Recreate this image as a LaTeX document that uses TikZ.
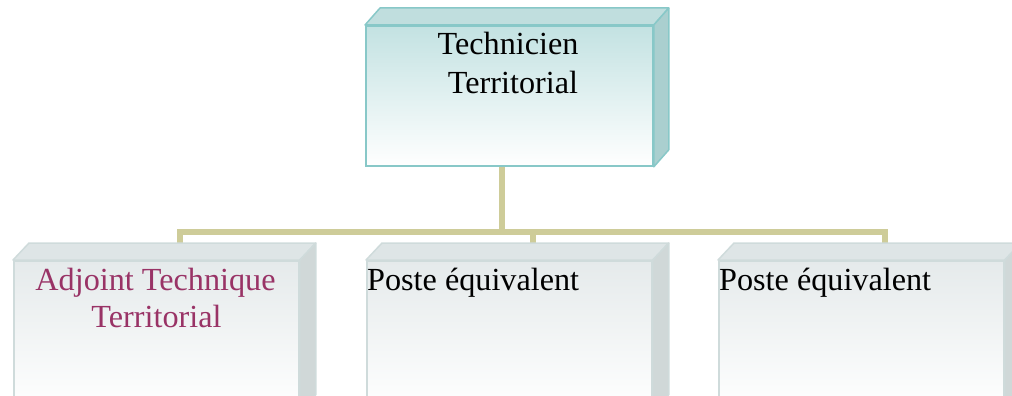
\documentclass[tikz,border=0pt]{standalone}
\usepackage{fontspec}
\setmainfont{Liberation Serif}
\definecolor{tealborder}{HTML}{88C8C8}
\definecolor{tealtop}{HTML}{C3E2E2}
\definecolor{tealface}{HTML}{C0DEDE}
\definecolor{tealright}{HTML}{AACFCF}
\definecolor{grayborder}{HTML}{CFDBDB}
\definecolor{graytop}{HTML}{E5EAEB}
\definecolor{grayface}{HTML}{DEE5E6}
\definecolor{grayright}{HTML}{D0D8D8}
\definecolor{conncol}{HTML}{CECC99}
\definecolor{maroon}{HTML}{993366}
\newcommand\boxfaces[5]{%
  \filldraw[draw=#5, line width=1.5pt, fill=#3, line join=round]
    (#1.north west) -- ([shift={(#2,-17)}]#1.north west) -- ([shift={(#2,-17)}]#1.north east) -- (#1.north east) -- cycle;
  \filldraw[draw=#5, line width=1.5pt, fill=#4, line join=round]
    (#1.north east) -- ([shift={(#2,-17)}]#1.north east) -- ([shift={(#2,-17)}]#1.south east) -- (#1.south east) -- cycle;
}
\begin{document}
\begin{tikzpicture}[x=1pt,y=-1pt,
  tealbox/.style={rectangle, draw=tealborder, line width=1.8pt, top color=tealtop, middle color=white, bottom color=white, anchor=north west, inner sep=0},
  graybox/.style={rectangle, draw=grayborder, line width=1.8pt, top color=graytop, middle color=white, bottom color=white, anchor=north west, inner sep=0, minimum width=285pt, minimum height=150pt},
  conn/.style={draw=conncol, line width=6pt},
  txt/.style={font=\fontsize{32.2}{38}\selectfont, inner sep=0},
  mtxt/.style={text=maroon}]
\useasboundingbox (0,0) rectangle (1012,396);
\clip (0,0) rectangle (1012,396);
% boxes (front faces)
\node[tealbox, minimum width=287pt, minimum height=140pt] (t) at (365,25) {};
\node[graybox] (b1) at (13,260) {};
\node[graybox] (b2) at (366,260) {};
\node[graybox] (b3) at (718,260) {};
% connector points
\coordinate (b1top) at ([shift={(167,-17)}]b1.north west);
\coordinate (b2top) at ([shift={(167,-17)}]b2.north west);
\coordinate (b3top) at ([shift={(167,-17)}]b3.north west);
\coordinate (bus) at (0,232);
\coordinate (tdrop) at ([xshift=-7.5pt]t.south);
% connectors
\draw[conn] (b1top) |- (bus -| b3top) -- (b3top);
\draw[conn] (b2top) -- (b2top |- bus);
\draw[conn] (tdrop) -- (tdrop |- bus);
% 3D faces
\boxfaces{t}{15}{tealface}{tealright}{tealborder}
\boxfaces{b1}{16}{grayface}{grayright}{grayborder}
\boxfaces{b2}{16}{grayface}{grayright}{grayborder}
\boxfaces{b3}{16}{grayface}{grayright}{grayborder}
% redraw front faces on top of connectors
\node[tealbox, minimum width=287pt, minimum height=140pt] at (365,25) {};
\node[graybox] at (13,260) {};
\node[graybox] at (366,260) {};
\node[graybox] at (718,260) {};
% texts
\node[txt, anchor=base] (tl1) at (508,55) {Technicien};
\node[txt, anchor=base] (tl2) at (513,93) {Territorial};
\node[txt, mtxt, anchor=base] (a1) at (155.5,290) {Adjoint Technique};
\node[txt, mtxt, anchor=base] (a2) at (156.5,327) {Territorial};
\node[txt, anchor=base west] (p2) at (367,290) {Poste équivalent};
\node[txt, anchor=base west] (p3) at (719,290) {Poste équivalent};
\end{tikzpicture}
\end{document}
